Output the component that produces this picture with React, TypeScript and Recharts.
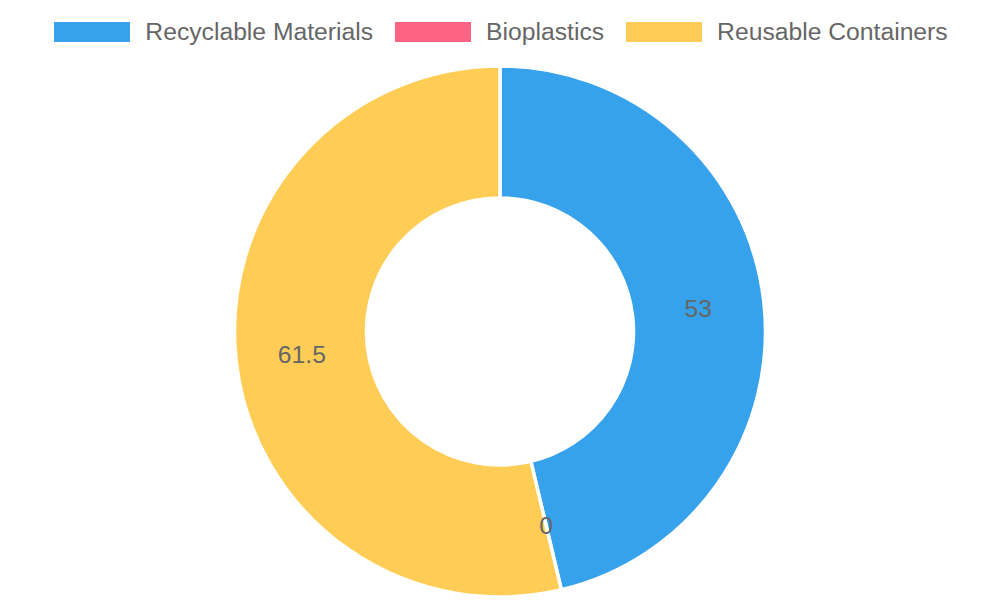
import React from "react";
import { PieChart, Pie, Cell } from "recharts";

const categories = ["Recyclable Materials", "Bioplastics", "Reusable Containers"];
const values = [53, 0, 61.5];
const colors = ["#36A2EB", "#FF6384", "#FFCD56"];

const data = categories.map((name, i) => ({ name, value: values[i] }));

const RADIAN = Math.PI / 180;
const FONT = "'Liberation Sans', Arial, Helvetica, sans-serif";

const renderLabel = (props: any) => {
  const { cx, cy, midAngle, innerRadius, outerRadius, value } = props;
  const r = (innerRadius + outerRadius) / 2;
  const x = cx + r * Math.cos(-midAngle * RADIAN);
  const y = cy + r * Math.sin(-midAngle * RADIAN);
  return (
    <text
      x={x}
      y={y}
      fill="#666666"
      fontSize={24.7}
      fontFamily={FONT}
      textAnchor="middle"
      dominantBaseline="central"
    >
      {value}
    </text>
  );
};

const LegendContent = () => (
  <div
    style={{
      display: "flex",
      justifyContent: "center",
      alignItems: "center",
      fontFamily: FONT,
      fontSize: 24.7,
      color: "#666666",
      height: 44,
      paddingLeft: 2,
    }}
  >
    {categories.map((c, i) => (
      <div
        key={c}
        style={{ display: "flex", alignItems: "center", marginRight: i < categories.length - 1 ? 22 : 0 }}
      >
        <div style={{ width: 76, height: 20, background: colors[i], marginRight: 15 }} />
        <span>{c}</span>
      </div>
    ))}
  </div>
);

export default function App() {
  return (
    <div style={{ position: "relative", width: 1000, height: 600 }}>
      <style>{`body{margin:0;}`}</style>
      <div style={{ position: "absolute", left: 0, top: 10, width: 1000 }}>
        <LegendContent />
      </div>
      <PieChart width={1000} height={600} margin={{ top: 0, right: 0, bottom: 0, left: 0 }}>
        <Pie
          data={data}
          dataKey="value"
          nameKey="name"
          cx={500}
          cy={331.5}
          innerRadius={133.5}
          outerRadius={265.5}
          startAngle={90}
          endAngle={-270}
          stroke="#ffffff"
          strokeWidth={3.5}
          label={renderLabel}
          labelLine={false}
          isAnimationActive={false}
        >
          {data.map((d, i) => (
            <Cell key={d.name} fill={colors[i]} />
          ))}
        </Pie>
      </PieChart>
    </div>
  );
}
